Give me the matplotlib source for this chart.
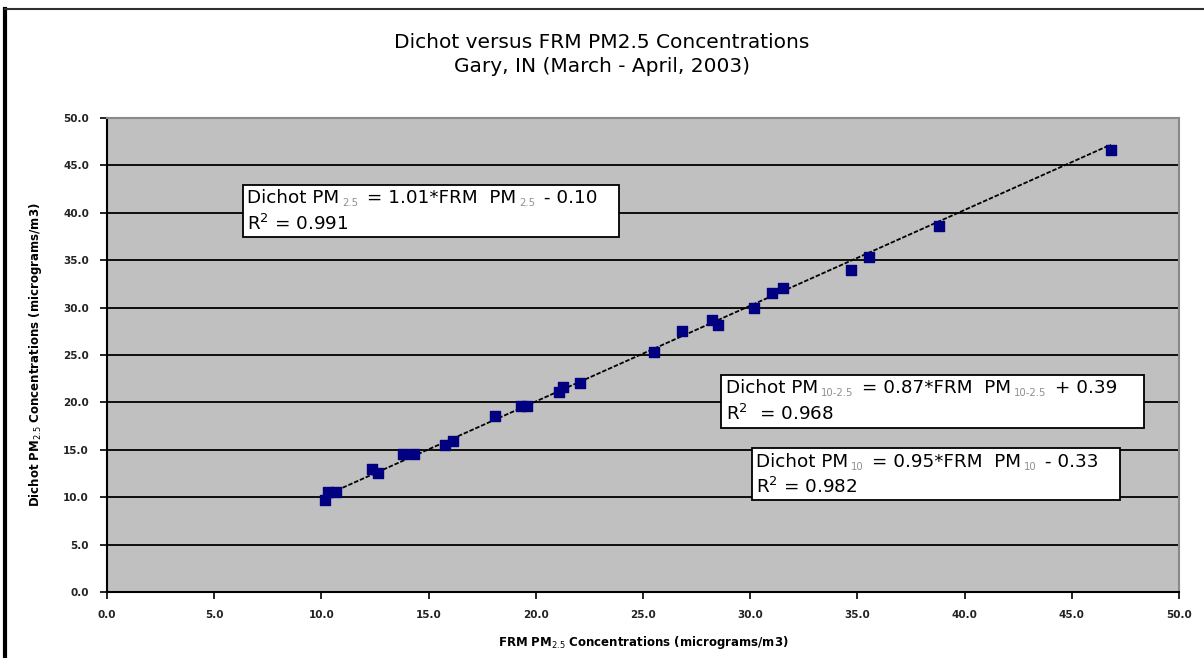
#!/usr/bin/env python3
"""Dichot vs FRM PM2.5 scatter, Gary IN (Mar-Apr 2003)."""

import matplotlib

matplotlib.use("Agg")
import matplotlib.pyplot as plt
import numpy as np
from matplotlib.lines import Line2D
from matplotlib.patches import Rectangle

# ── data ─────────────────────────────────────────────────────────────────────
frm_pm25 = [10.18, 10.32, 10.69, 12.37, 12.65, 13.82, 14.33, 15.78, 16.15,
            18.11, 19.33, 19.61, 21.10, 21.29, 22.04, 25.49, 26.80, 28.24,
            28.52, 30.16, 31.00, 31.51, 34.69, 35.53, 38.80, 46.82]
dichot_pm25 = [9.70, 10.55, 10.55, 12.97, 12.55, 14.56, 14.56, 15.51, 15.93,
               18.57, 19.62, 19.62, 21.10, 21.62, 22.05, 25.32, 27.53, 28.69,
               28.16, 29.96, 31.54, 32.07, 33.97, 35.34, 38.61, 46.62]

fit_slope = 1.01
fit_intercept = -0.10

TITLE_1 = "Dichot versus FRM PM2.5 Concentrations"
TITLE_2 = "Gary, IN (March - April, 2003)"

# equation box texts: (piece, is_subscript)
EQ_25 = [("Dichot PM", 0), ("2.5", 1), (" = 1.01*FRM  PM", 0), ("2.5", 1), (" - 0.10", 0)]
EQ_COARSE = [("Dichot PM", 0), ("10-2.5", 1), (" = 0.87*FRM  PM", 0), ("10-2.5", 1), (" + 0.39", 0)]
EQ_10 = [("Dichot PM", 0), ("10", 1), (" = 0.95*FRM  PM", 0), ("10", 1), (" - 0.33", 0)]
R2_25 = "R$^{2}$ = 0.991"
R2_COARSE = "R$^{2}$  = 0.968"
R2_10 = "R$^{2}$ = 0.982"

NAVY = "#000080"
PLOT_BG = "#C0C0C0"
FONT = "DejaVu Sans"
TXT_SIZE = 13.2


def rich_line(ax, x, y, segments, size=TXT_SIZE):
    """Draw text made of normal and small gray subscript pieces on one baseline."""
    prev = None
    for s, sub in segments:
        kw = dict(fontsize=size * 0.55 if sub else size,
                  color="#909090" if sub else "black",
                  family=FONT, va="baseline", ha="left", zorder=6)
        dy = -2.0 if sub else 0.0
        if prev is None:
            prev = ax.text(x, y, s, **kw)
        else:
            prev = ax.annotate(s, xy=(1, y), xycoords=(prev, "data"),
                               xytext=(2.0, dy), textcoords="offset points",
                               **kw)
    return prev


def eq_box(ax, x0, x1, y0, y1, segments, r2, tx, ty1, ty2):
    ax.add_patch(Rectangle((x0, y0), x1 - x0, y1 - y0, facecolor="white",
                           edgecolor="black", linewidth=1.3, zorder=5))
    rich_line(ax, tx, ty1, segments)
    ax.text(tx, ty2, r2, fontsize=TXT_SIZE, family=FONT, va="baseline",
            ha="left", zorder=6)


def main() -> None:
    fig = plt.figure(figsize=(12.04, 6.58), dpi=100)
    fig.patch.set_facecolor("white")

    # outer frame (left thick, top thin)
    fig.add_artist(Line2D([5 / 1204, 5 / 1204], [0, 1 - 9 / 658],
                          transform=fig.transFigure, color="black", linewidth=3))
    fig.add_artist(Line2D([5 / 1204, 1], [1 - 9 / 658, 1 - 9 / 658],
                          transform=fig.transFigure, color="#303030", linewidth=1.5))

    ax = fig.add_axes([107 / 1204, 66 / 658, (1179 - 107) / 1204, (592 - 118) / 658])
    ax.set_facecolor(PLOT_BG)
    ax.set_xlim(0, 50)
    ax.set_ylim(0, 50)

    ticks = np.arange(0, 50.1, 5)
    ax.set_xticks(ticks)
    ax.set_yticks(ticks)
    ax.set_xticklabels([f"{t:.1f}" for t in ticks])
    ax.set_yticklabels([f"{t:.1f}" for t in ticks])
    ax.tick_params(direction="out", length=5, width=1.2, labelsize=7.5,
                   colors="black", labelcolor="#222222", pad=8)
    for lab in ax.get_xticklabels() + ax.get_yticklabels():
        lab.set_fontweight("bold")

    for v in ticks[1:-1]:
        ax.axhline(v, color="black", linewidth=1.3, zorder=1)

    for side in ("left", "bottom"):
        ax.spines[side].set_color("black")
        ax.spines[side].set_linewidth(1.5)
    for side in ("top", "right"):
        ax.spines[side].set_color("#8a8a8a")
        ax.spines[side].set_linewidth(1.5)

    # fit line
    xs = np.array([min(frm_pm25), max(frm_pm25)])
    ax.plot(xs, fit_slope * xs + fit_intercept, color="black", linewidth=1.3,
            linestyle=(0, (2.5, 1)), zorder=3)

    ax.scatter(frm_pm25, dichot_pm25, marker="s", s=42, color=NAVY,
               edgecolors=NAVY, zorder=4)

    # equation boxes
    eq_box(ax, 6.35, 23.90, 37.45, 42.93, EQ_25, R2_25, 6.55, 41.05, 38.2)
    eq_box(ax, 28.66, 48.37, 17.30, 22.89, EQ_COARSE, R2_COARSE, 28.85, 21.0, 18.15)
    eq_box(ax, 30.07, 47.25, 9.70, 15.19, EQ_10, R2_10, 30.25, 13.2, 10.45)

    ax.set_xlabel("FRM PM$_{2.5}$ Concentrations (micrograms/m3)", fontsize=8.5,
                  fontweight="bold", labelpad=10)
    ax.set_ylabel("Dichot PM$_{2.5}$ Concentrations (micrograms/m3)", fontsize=8.5,
                  fontweight="bold", labelpad=14)

    fig.text(0.5, 1 - 42 / 658, TITLE_1, ha="center", va="center", fontsize=14.5)
    fig.text(0.5, 1 - 66 / 658, TITLE_2, ha="center", va="center", fontsize=14.5)

    fig.savefig("out.png", dpi=100, facecolor="white")
    plt.close(fig)


if __name__ == "__main__":
    main()
